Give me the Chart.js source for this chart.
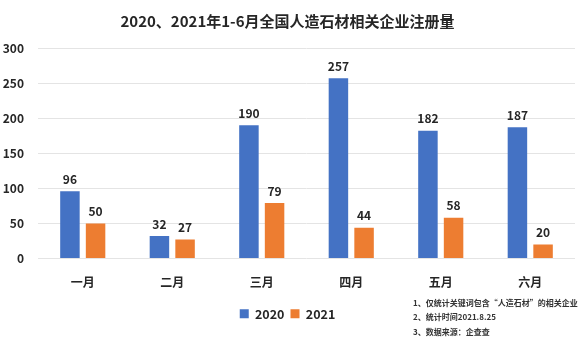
<!DOCTYPE html>
<html>
<head>
<meta charset="utf-8">
<script src="https://cdn.jsdelivr.net/npm/chart.js@4"></script>
<style>
  html, body { margin: 0; padding: 0; background: #fff; }
  #wrap { width: 580px; height: 339px; }
</style>
</head>
<body>
<div id="wrap"><canvas id="myChart"></canvas></div>
<script>
var months = ['一月', '二月', '三月', '四月', '五月', '六月'];
var data2020 = [96, 32, 190, 257, 182, 187];
var data2021 = [50, 27, 79, 44, 58, 20];
var yTicks = [0, 50, 100, 150, 200, 250, 300];
var notes = ['1、仅统计关键词包含“人造石材”的相关企业', '2、统计时间2021.8.25', '3、数据来源：企查查'];

var font = '"Noto Sans CJK SC", "Noto Sans", sans-serif';
Chart.defaults.font.family = font;
Chart.defaults.color = '#262626';

// numbers above each bar
var barLabels = {
  id: 'barLabels',
  afterDatasetsDraw: function(chart) {
    var c = chart.ctx;
    c.save();
    c.font = 'bold 12px ' + font;
    c.fillStyle = '#262626';
    c.textAlign = 'center';
    c.textBaseline = 'bottom';
    chart.data.datasets.forEach(function(ds, i) {
      chart.getDatasetMeta(i).data.forEach(function(bar, j) {
        c.fillText(ds.data[j], bar.x, bar.y - 6);
      });
    });
    c.restore();
  }
};

// footnotes bottom right
var footNotes = {
  id: 'footNotes',
  afterDraw: function(chart) {
    var c = chart.ctx;
    c.save();
    c.font = 'bold 8px ' + font;
    c.fillStyle = '#333';
    c.textAlign = 'left';
    c.textBaseline = 'middle';
    notes.forEach(function(t, i) {
      c.fillText(t, 413, 302.5 + i * 14.7);
    });
    c.restore();
  }
};

var ctx = document.getElementById('myChart').getContext('2d');
var myChart = new Chart(ctx, {
  type: 'bar',
  data: {
    labels: months,
    datasets: [{
      label: '2020',
      data: data2020,
      backgroundColor: '#4472C4'
    }, {
      label: '2021',
      data: data2021,
      backgroundColor: '#ED7D31'
    }]
  },
  options: {
    responsive: true,
    maintainAspectRatio: false,
    animation: false,
    categoryPercentage: 0.573,
    barPercentage: 0.76,
    layout: { padding: { left: 0, right: 5, top: 0, bottom: 9 } },
    plugins: {
      title: {
        display: true,
        text: '2020、2021年1-6月全国人造石材相关企业注册量',
        color: '#262626',
        font: { size: 15, weight: 'bold' },
        padding: { top: 12, bottom: 18 }
      },
      legend: {
        position: 'bottom',
        labels: {
          boxWidth: 9,
          boxHeight: 9,
          padding: 6,
          color: '#262626',
          font: { size: 12.5, weight: 'bold' }
        }
      },
      tooltip: { enabled: false }
    },
    scales: {
      x: {
        grid: { display: false },
        border: { display: false },
        afterFit: function(axis) { axis.height = 43; },
        ticks: {
          padding: 9,
          color: '#262626',
          font: { size: 12, weight: 'bold' }
        }
      },
      y: {
        min: yTicks[0],
        max: yTicks[yTicks.length - 1],
        afterBuildTicks: function(axis) {
          axis.ticks = yTicks.map(function(v) { return { value: v }; });
        },
        afterFit: function(axis) { axis.width = 38; },
        grid: { color: '#e4e4e4', drawTicks: false },
        border: { display: false },
        ticks: {
          padding: 14,
          color: '#262626',
          font: { size: 12, weight: 'bold' }
        }
      }
    }
  },
  plugins: [barLabels, footNotes]
});
</script>
</body>
</html>
